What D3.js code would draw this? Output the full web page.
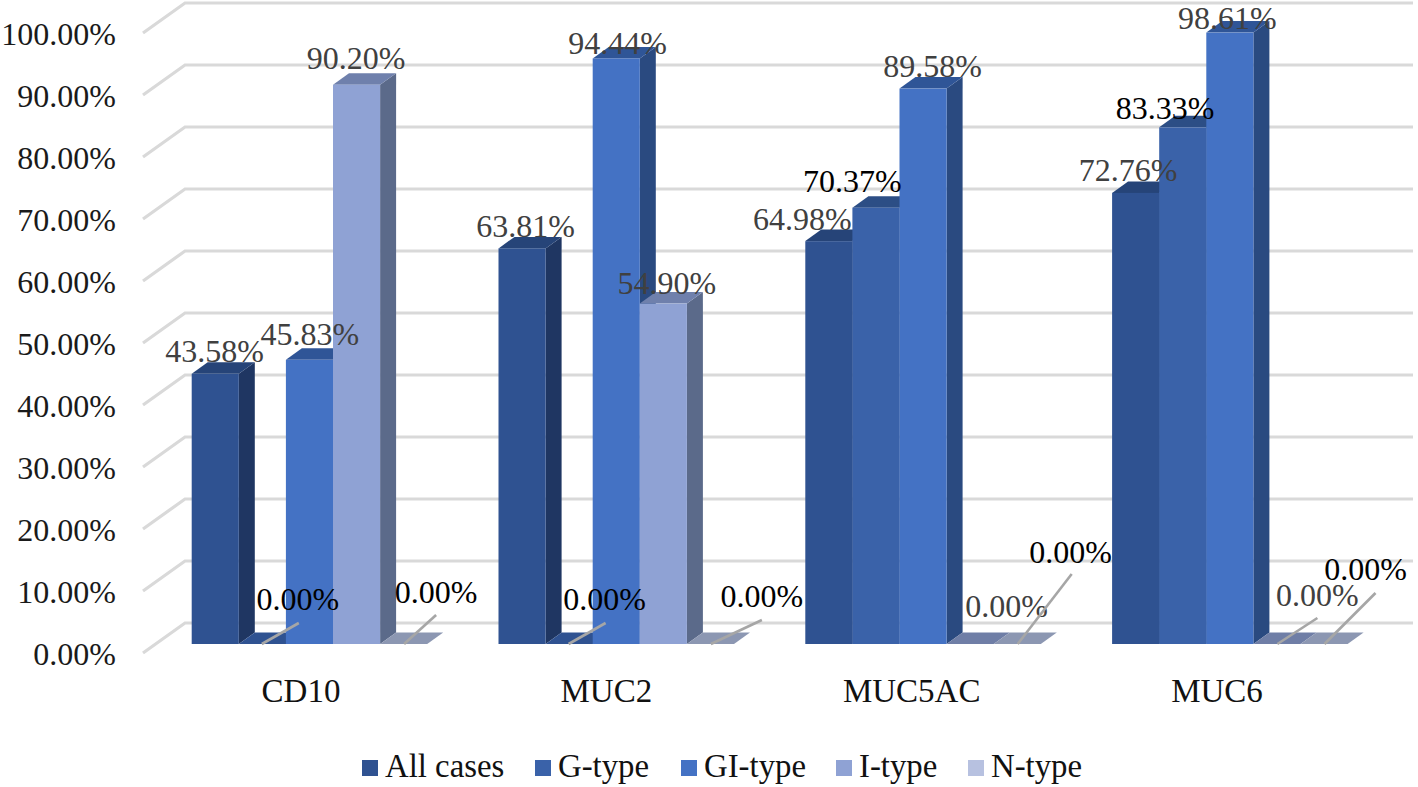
<!DOCTYPE html>
<html><head><meta charset="utf-8">
<script src="https://d3js.org/d3.v7.min.js"></script>
<style>
html,body{margin:0;padding:0;background:#fff}
svg{display:block}
text{font-family:"Liberation Serif","Times New Roman",serif}
</style></head><body><svg id="c" width="1418" height="787"></svg>
<script>
const categories = ["CD10","MUC2","MUC5AC","MUC6"];
const seriesNames = ["All cases","G-type","GI-type","I-type","N-type"];
const allCases = [43.58,63.81,64.98,72.76];
const gType = [0,0,70.37,83.33];
const giType = [45.83,94.44,89.58,98.61];
const iType = [90.20,54.90,0,0];
const nType = [0,0,0,0];
const yTicks = [0,10,20,30,40,50,60,70,80,90,100];

// Layout/styling, separate from the data above
const frontColors = ["#2F5291","#3A62A9","#4472C4","#8FA2D4","#B7C1E0"];
const sideColors  = ["#1F3662","#2A4A80","#2A4A80","#5B6A8A","#7A84A0"];
const topColors   = ["#264478","#2C4E85","#2F5597","#6F80AC","#8C97B2"];
const floorColors = ["#2F5291","#2F5291","#2F5597","#6F7EA6","#8C97B2"];
const D = {dx:16, dy:-11.5};
const labelOffset = [
 [[23,-23],[27,-23],[-3,-22],[16,-23]],
 [[59,-45],[59,-45],[0,-27],[6,-20]],
 [[24,-26],[25,-16],[33,-23],[21,-15]],
 [[23,-27],[27,-21],[60,-38],[64,-49]],
 [[56,-52],[75,-48],[77,-92],[65,-75]]
];
const leaders = [
 [null,null,null,null],
 [[23,0,60,-21],[23,0,60,-21],null,null],
 [null,null,null,null],
 [null,null,null,[24,0,64,-26]],
 [[24,0,56,-29],[24,0,75,-24],[24,0,78,-70],[24,0,75,-51]]
];
const labelColor = [
 ["#404040","#404040","#404040","#404040"],
 ["#000","#000","#000","#000"],
 ["#404040","#404040","#404040","#404040"],
 ["#404040","#404040","#404040","#404040"],
 ["#000","#000","#000","#000"]
];
const legendX = [362,535,681,836,968];

const table = [allCases,gType,giType,iType,nType];
const svg = d3.select("#c");
const y = d3.scaleLinear().domain([0,100]).range([644,24]);
const x = d3.scaleBand().domain(categories).range([191.7,191.7+4*306.8]);
const s = d3.scaleBand().domain(seriesNames).range([0,235.5]);
const catX = d3.scalePoint().domain(categories).range([301,1217]);
const bw = s.bandwidth();

// Walls
const wall = svg.append("g");
const wx0=143, wx1=185, wx2=1413, wyFront=9, wyBack=-21;
yTicks.forEach(t=>{
  wall.append("path")
    .attr("d",`M${wx0},${y(t)+wyFront}L${wx1},${y(t)+wyBack}L${wx2},${y(t)+wyBack}`)
    .attr("fill","none").attr("stroke","#D9D9D9").attr("stroke-width",3.2);
});

// Bars
categories.forEach((c,ci)=>{
  const g = svg.append("g");
  seriesNames.forEach((n,si)=>{
    const v = table[si][ci];
    const X = x(c)+s(n), Y = y(v), B = y(0), bar = g.append("g");
    if(v===0){
      bar.append("path").attr("d",`M${X},${B}L${X+D.dx},${B+D.dy}L${X+bw+D.dx},${B+D.dy}L${X+bw},${B}Z`).attr("fill",floorColors[si]);
      return;
    }
    bar.append("path").attr("d",`M${X+bw},${Y}L${X+bw+D.dx},${Y+D.dy}L${X+bw+D.dx},${B+D.dy}L${X+bw},${B}Z`).attr("fill",sideColors[si]);
    bar.append("path").attr("d",`M${X},${Y}L${X+D.dx},${Y+D.dy}L${X+bw+D.dx},${Y+D.dy}L${X+bw},${Y}Z`).attr("fill",topColors[si]);
    bar.append("rect").attr("x",X).attr("y",Y).attr("width",bw).attr("height",B-Y).attr("fill",frontColors[si]);
  });
});

// Y axis
const yAxis = d3.axisLeft(y).tickValues(yTicks).tickSize(0).tickPadding(0).tickFormat(d=>d.toFixed(2)+"%");
const ax = svg.append("g").attr("transform",`translate(116,${wyFront+1})`).call(yAxis);
ax.select(".domain").remove();
ax.selectAll("text").attr("font-size",32).attr("font-family","Liberation Serif").attr("fill","#1a1a1a");

// Category labels
svg.append("g").selectAll("text").data(categories).join("text")
  .attr("x",d=>catX(d)).attr("y",702).attr("text-anchor","middle")
  .attr("font-size",33).attr("fill","#111").text(d=>d);

// Leader lines and data labels
categories.forEach((c,ci)=>{
  seriesNames.forEach((n,si)=>{
    const v = table[si][ci], X = x(c)+s(n), Y = y(v), l = leaders[si][ci];
    if(l) svg.append("line").attr("x1",X+l[0]).attr("y1",Y+l[1]).attr("x2",X+l[2]).attr("y2",Y+l[3])
      .attr("stroke","#A6A6A6").attr("stroke-width",2.6);
    const o = labelOffset[si][ci];
    svg.append("text").attr("x",X+o[0]).attr("y",Y+o[1]).attr("dy","0.35em").attr("text-anchor","middle")
      .attr("font-size",32).attr("fill",labelColor[si][ci]).text(v.toFixed(2)+"%");
  });
});

// Legend
const leg = svg.append("g");
seriesNames.forEach((n,i)=>{
  leg.append("rect").attr("x",legendX[i]).attr("y",760).attr("width",16).attr("height",16).attr("fill",frontColors[i]);
  leg.append("text").attr("x",legendX[i]+23).attr("y",777).attr("font-size",32.8).attr("fill","#111").text(n);
});
</script></body></html>
